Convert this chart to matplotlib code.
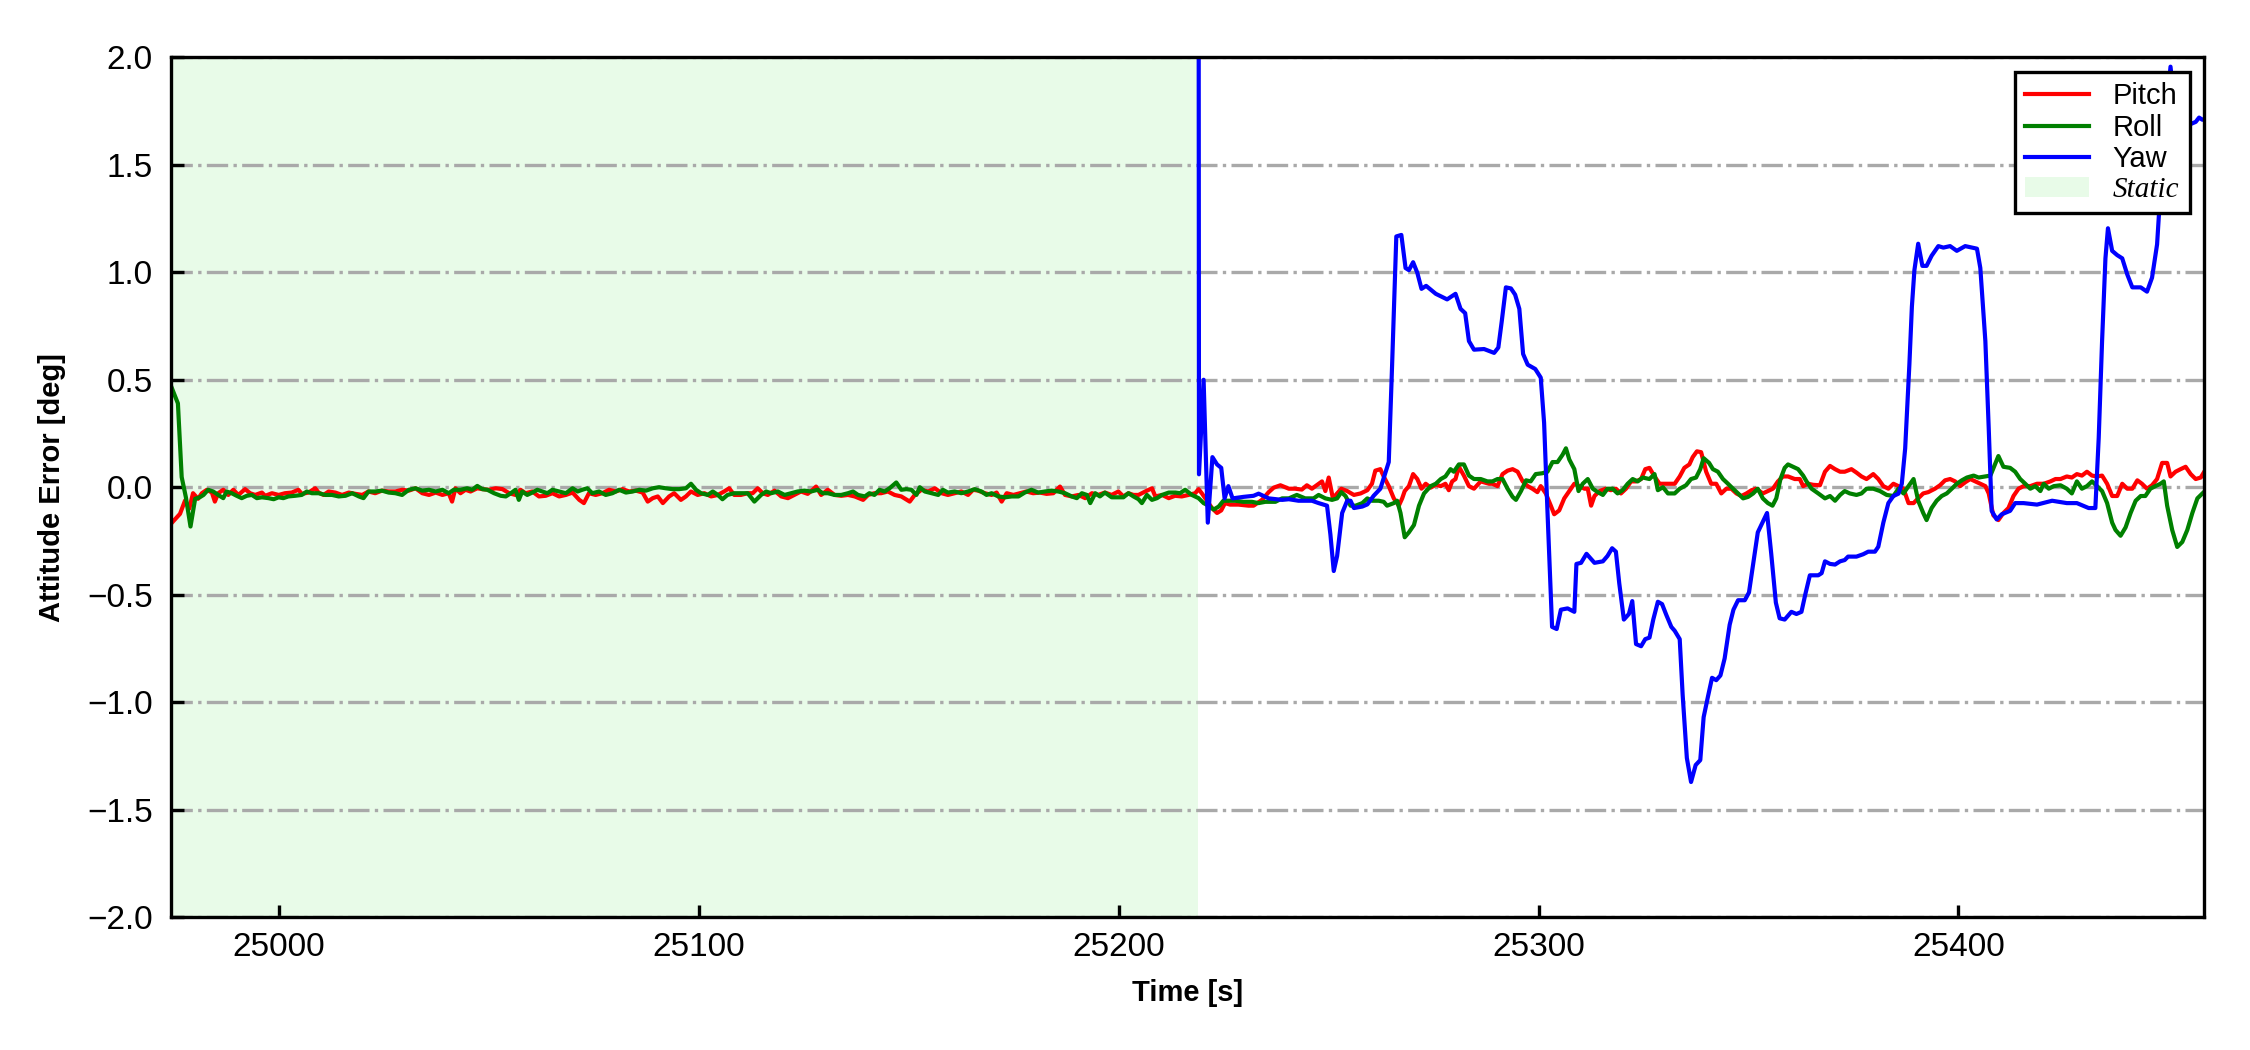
import numpy as np
import matplotlib
matplotlib.use("Agg")
import matplotlib.pyplot as plt
from matplotlib.patches import Patch
from matplotlib.lines import Line2D

plt.rcParams['font.family'] = ['Liberation Sans', 'DejaVu Sans']

# attitude error samples (time [s], error [deg])
pitch_pts = [
    (24974.2, -0.171), (24976.4, -0.124), (24977.6, -0.062), (24978.6, -0.100), (24979.5, -0.028),
    (24980.7, -0.054), (24981.6, -0.028), (24982.8, -0.012), (24984.0, -0.025), (24984.7, -0.067),
    (24985.5, -0.028), (24986.7, -0.012), (24987.9, -0.036), (24989.1, -0.012), (24990.3, -0.036),
    (24991.9, -0.009), (24993.1, -0.028), (24994.3, -0.036), (24995.9, -0.025), (24996.7, -0.040),
    (24998.3, -0.028), (24999.9, -0.036), (25001.4, -0.028), (25003.0, -0.025), (25004.6, -0.012),
    (25005.4, -0.031), (25007.0, -0.025), (25008.6, -0.005), (25009.4, -0.025), (25010.6, -0.036),
    (25011.8, -0.020), (25013.4, -0.025), (25015.0, -0.036), (25016.6, -0.025), (25018.2, -0.031),
    (25019.8, -0.036), (25021.3, -0.020), (25022.9, -0.028), (25024.5, -0.016), (25026.1, -0.020),
    (25027.7, -0.020), (25029.3, -0.012), (25030.9, -0.016), (25032.5, -0.005), (25034.1, -0.028),
    (25035.7, -0.036), (25037.3, -0.025), (25038.9, -0.036), (25040.4, -0.028), (25041.2, -0.067),
    (25042.0, -0.005), (25043.2, -0.028), (25044.4, -0.012), (25045.6, -0.020), (25047.2, -0.005),
    (25048.4, -0.009), (25050.0, -0.012), (25051.6, -0.005), (25053.2, -0.009), (25054.8, -0.028),
    (25056.3, -0.036), (25057.5, -0.012), (25058.7, -0.028), (25060.3, -0.020), (25061.9, -0.043),
    (25063.5, -0.040), (25065.1, -0.028), (25066.7, -0.043), (25068.3, -0.036), (25069.9, -0.025),
    (25071.5, -0.059), (25072.6, -0.074), (25073.8, -0.028), (25075.4, -0.036), (25077.0, -0.028),
    (25078.6, -0.012), (25080.2, -0.020), (25081.8, -0.009), (25083.4, -0.020), (25085.0, -0.016),
    (25086.6, -0.025), (25087.8, -0.067), (25089.0, -0.051), (25090.2, -0.043), (25091.4, -0.074),
    (25092.9, -0.043), (25094.1, -0.028), (25095.7, -0.059), (25096.9, -0.043), (25098.1, -0.020),
    (25099.7, -0.036), (25101.3, -0.028), (25102.9, -0.043), (25104.5, -0.036), (25106.0, -0.020),
    (25107.2, -0.005), (25108.4, -0.036), (25110.0, -0.036), (25111.6, -0.028), (25112.8, -0.028),
    (25114.0, -0.005), (25115.2, -0.028), (25116.4, -0.036), (25118.0, -0.016), (25119.6, -0.043),
    (25121.2, -0.051), (25122.7, -0.036), (25124.3, -0.020), (25125.9, -0.031), (25127.1, -0.012),
    (25127.9, 0.003), (25129.1, -0.036), (25130.7, -0.012), (25132.3, -0.036), (25133.9, -0.040),
    (25135.5, -0.036), (25137.1, -0.043), (25139.1, -0.059), (25140.3, -0.036), (25141.8, -0.028),
    (25143.4, -0.028), (25145.0, -0.020), (25146.6, -0.036), (25148.2, -0.043), (25150.2, -0.067),
    (25151.4, -0.036), (25153.0, -0.012), (25154.6, -0.020), (25156.2, -0.005), (25157.8, -0.028),
    (25159.3, -0.036), (25160.9, -0.028), (25162.5, -0.020), (25164.1, -0.036), (25165.3, -0.012),
    (25166.5, -0.016), (25168.1, -0.028), (25169.7, -0.036), (25170.9, -0.025), (25172.1, -0.067),
    (25173.3, -0.028), (25174.9, -0.036), (25176.4, -0.028), (25178.0, -0.020), (25179.6, -0.028),
    (25181.2, -0.025), (25182.8, -0.031), (25184.4, -0.028), (25186.0, 0.003), (25187.2, -0.036),
    (25188.8, -0.043), (25190.4, -0.036), (25192.0, -0.051), (25193.6, -0.028), (25195.1, -0.036),
    (25196.7, -0.025), (25198.3, -0.036), (25199.9, -0.020), (25201.1, -0.043), (25202.3, -0.028),
    (25203.5, -0.036), (25204.7, -0.036), (25206.3, -0.020), (25207.9, -0.005), (25208.7, -0.043),
    (25210.3, -0.036), (25211.9, -0.051), (25213.4, -0.040), (25215.0, -0.043), (25216.6, -0.036),
    (25218.2, -0.028), (25219.0, -0.009), (25219.8, -0.029), (25220.6, -0.052), (25222.2, -0.097),
    (25223.4, -0.120), (25224.4, -0.108), (25225.3, -0.074), (25226.5, -0.081), (25228.5, -0.081),
    (25230.9, -0.086), (25232.1, -0.086), (25234.1, -0.059), (25235.7, -0.023), (25236.9, -0.002),
    (25238.5, 0.009), (25240.5, -0.007), (25242.0, -0.007), (25243.6, -0.011), (25244.8, 0.009),
    (25246.0, -0.007), (25247.6, 0.016), (25248.4, 0.027), (25249.2, -0.018), (25250.0, 0.045),
    (25251.0, -0.052), (25252.0, -0.029), (25253.0, -0.007), (25254.4, -0.018), (25256.0, -0.036),
    (25257.6, -0.029), (25259.2, -0.014), (25260.3, 0.016), (25261.1, 0.077), (25262.3, 0.084),
    (25263.1, 0.050), (25264.3, 0.005), (25265.5, -0.052), (25266.7, -0.086), (25267.5, -0.052),
    (25268.1, -0.018), (25269.1, 0.005), (25270.1, 0.061), (25271.1, 0.038), (25272.1, -0.007),
    (25273.1, 0.016), (25274.3, -0.002), (25275.5, 0.011), (25276.7, 0.005), (25277.8, 0.016),
    (25278.6, -0.014), (25279.4, 0.027), (25280.2, 0.038), (25281.0, 0.095), (25282.2, 0.054),
    (25283.4, 0.005), (25284.6, -0.007), (25286.2, 0.027), (25288.2, 0.016), (25289.0, 0.016),
    (25290.2, 0.005), (25291.4, 0.061), (25292.6, 0.077), (25293.8, 0.084), (25295.0, 0.072),
    (25296.2, 0.027), (25297.4, 0.005), (25298.5, -0.007), (25299.7, -0.023), (25300.5, 0.005),
    (25301.7, -0.029), (25302.9, -0.086), (25303.7, -0.126), (25304.9, -0.108), (25306.1, -0.052),
    (25307.3, -0.018), (25308.5, 0.016), (25309.7, 0.005), (25310.9, -0.007), (25311.7, -0.007),
    (25312.5, -0.086), (25313.3, -0.041), (25314.5, -0.018), (25316.0, -0.007), (25317.2, -0.014),
    (25318.4, -0.007), (25319.6, -0.029), (25320.8, -0.007), (25322.0, 0.027), (25323.2, 0.027),
    (25324.4, 0.038), (25325.4, 0.084), (25326.4, 0.090), (25327.6, 0.050), (25328.8, 0.016),
    (25330.0, 0.016), (25331.2, 0.016), (25332.4, 0.016), (25333.6, 0.050), (25334.7, 0.090),
    (25335.9, 0.106), (25336.7, 0.140), (25337.7, 0.167), (25338.7, 0.163), (25339.9, 0.072),
    (25341.1, 0.016), (25342.3, 0.016), (25343.5, -0.029), (25344.7, -0.007), (25345.9, -0.007),
    (25347.1, -0.029), (25348.3, -0.041), (25349.5, -0.029), (25350.7, -0.014), (25351.8, -0.007),
    (25353.4, -0.029), (25354.6, -0.018), (25355.8, -0.007), (25357.0, 0.027), (25358.2, 0.050),
    (25359.4, 0.050), (25361.0, 0.038), (25362.2, 0.038), (25363.0, 0.005), (25364.2, 0.016),
    (25365.4, 0.011), (25367.0, 0.009), (25368.2, 0.072), (25369.4, 0.099), (25370.6, 0.084),
    (25371.8, 0.072), (25372.9, 0.072), (25374.5, 0.084), (25375.7, 0.068), (25376.9, 0.050),
    (25378.1, 0.038), (25379.7, 0.061), (25380.9, 0.038), (25382.1, 0.005), (25383.3, -0.007),
    (25384.5, 0.016), (25385.7, 0.005), (25386.9, -0.007), (25388.1, -0.074), (25389.3, -0.074),
    (25390.4, -0.052), (25391.6, -0.029), (25392.8, -0.023), (25394.4, -0.007), (25395.6, 0.009),
    (25396.8, 0.032), (25398.0, 0.038), (25399.2, 0.027), (25400.4, 0.005), (25401.6, 0.023),
    (25402.8, 0.038), (25404.0, 0.027), (25405.2, 0.016), (25406.4, 0.005), (25407.2, -0.029),
    (25408.3, -0.131), (25409.5, -0.153), (25410.7, -0.120), (25411.9, -0.097), (25413.1, -0.041),
    (25414.3, -0.007), (25415.5, 0.005), (25417.1, 0.005), (25418.7, 0.016), (25420.3, 0.016),
    (25421.9, 0.027), (25423.1, 0.038), (25424.3, 0.038), (25425.8, 0.050), (25427.0, 0.045),
    (25428.2, 0.061), (25429.4, 0.054), (25430.6, 0.072), (25431.8, 0.054), (25433.0, 0.050),
    (25434.2, 0.054), (25435.4, 0.016), (25436.6, -0.041), (25437.8, -0.041), (25439.0, 0.016),
    (25440.2, -0.007), (25441.4, -0.007), (25442.6, 0.032), (25443.7, 0.016), (25444.9, -0.007),
    (25446.1, 0.009), (25447.3, 0.038), (25448.5, 0.113), (25449.7, 0.113), (25450.5, 0.050),
    (25451.7, 0.072), (25452.9, 0.084), (25454.1, 0.095), (25455.3, 0.061), (25456.5, 0.038),
    (25457.7, 0.045), (25458.9, 0.084), (25459.4, 0.106),
]

roll_pts = [
    (24974.2, 0.474), (24975.9, 0.390), (24976.8, 0.047), (24977.8, -0.047), (24978.9, -0.183),
    (24980.0, -0.054), (24981.1, -0.047), (24982.0, -0.036), (24983.1, -0.012), (24984.3, -0.020),
    (24985.5, -0.036), (24986.7, -0.051), (24987.5, -0.020), (24988.7, -0.028), (24989.9, -0.040),
    (24991.1, -0.051), (24992.3, -0.040), (24993.5, -0.036), (24994.7, -0.051), (24995.9, -0.047),
    (24997.5, -0.051), (24998.7, -0.056), (24999.9, -0.047), (25001.0, -0.051), (25002.2, -0.043),
    (25003.8, -0.040), (25005.4, -0.036), (25006.6, -0.020), (25007.8, -0.028), (25009.4, -0.028),
    (25011.0, -0.036), (25012.6, -0.036), (25014.2, -0.043), (25015.8, -0.040), (25017.4, -0.028),
    (25019.0, -0.043), (25020.1, -0.051), (25021.3, -0.020), (25022.9, -0.020), (25024.5, -0.016),
    (25026.1, -0.025), (25027.7, -0.028), (25029.3, -0.036), (25030.9, -0.012), (25032.5, -0.005),
    (25034.1, -0.016), (25035.7, -0.012), (25037.3, -0.020), (25038.9, -0.012), (25040.4, -0.028),
    (25041.6, -0.012), (25043.2, -0.012), (25044.8, -0.005), (25046.0, -0.012), (25047.2, 0.006),
    (25048.4, -0.009), (25049.6, -0.012), (25051.2, -0.028), (25052.8, -0.040), (25054.0, -0.043),
    (25055.2, -0.028), (25056.3, -0.012), (25057.1, -0.059), (25057.9, -0.020), (25059.1, -0.036),
    (25060.3, -0.025), (25061.5, -0.012), (25062.7, -0.020), (25063.9, -0.028), (25065.1, -0.012),
    (25066.7, -0.020), (25068.3, -0.028), (25069.9, -0.005), (25071.1, -0.020), (25072.2, -0.012),
    (25073.4, -0.005), (25074.6, -0.028), (25076.2, -0.020), (25077.8, -0.036), (25079.4, -0.028),
    (25081.0, -0.012), (25082.6, -0.025), (25084.2, -0.020), (25085.8, -0.012), (25087.4, -0.016),
    (25089.0, -0.005), (25090.5, 0.000), (25092.1, -0.005), (25093.7, -0.009), (25095.3, -0.009),
    (25096.9, -0.005), (25098.1, 0.016), (25099.3, -0.012), (25100.5, -0.028), (25102.1, -0.036),
    (25103.3, -0.020), (25104.5, -0.036), (25105.6, -0.056), (25106.8, -0.036), (25108.4, -0.028),
    (25110.0, -0.028), (25111.6, -0.028), (25113.2, -0.067), (25114.8, -0.036), (25116.0, -0.020),
    (25117.2, -0.028), (25118.8, -0.020), (25120.4, -0.036), (25122.0, -0.028), (25123.5, -0.020),
    (25125.1, -0.016), (25126.7, -0.020), (25128.3, -0.012), (25129.5, -0.028), (25130.7, -0.028),
    (25132.3, -0.036), (25133.9, -0.036), (25135.5, -0.028), (25136.7, -0.020), (25137.9, -0.036),
    (25139.5, -0.043), (25140.6, -0.028), (25141.8, -0.036), (25143.0, -0.012), (25144.2, -0.020),
    (25145.4, -0.005), (25147.0, 0.022), (25148.2, -0.012), (25149.4, -0.009), (25150.6, -0.012),
    (25151.8, -0.036), (25152.6, 0.000), (25153.8, -0.020), (25155.4, -0.028), (25157.0, -0.036),
    (25158.1, -0.012), (25159.3, -0.025), (25160.9, -0.020), (25162.5, -0.028), (25164.1, -0.020),
    (25165.7, -0.009), (25167.3, -0.020), (25168.5, -0.036), (25169.7, -0.028), (25171.3, -0.043),
    (25172.9, -0.047), (25174.5, -0.043), (25176.1, -0.043), (25177.6, -0.025), (25179.2, -0.012),
    (25180.8, -0.025), (25182.4, -0.020), (25184.0, -0.016), (25185.6, -0.020), (25187.2, -0.028),
    (25188.8, -0.043), (25190.0, -0.051), (25191.2, -0.028), (25192.4, -0.036), (25193.2, -0.074),
    (25194.4, -0.028), (25195.5, -0.043), (25196.7, -0.025), (25198.3, -0.047), (25199.9, -0.047),
    (25201.1, -0.047), (25202.3, -0.028), (25203.5, -0.043), (25204.7, -0.056), (25205.5, -0.074),
    (25206.7, -0.036), (25207.9, -0.059), (25209.1, -0.051), (25210.3, -0.036), (25211.9, -0.025),
    (25213.5, -0.025), (25214.6, -0.028), (25215.8, -0.012), (25217.4, -0.036), (25219.0, -0.051),
    (25220.2, -0.074), (25221.4, -0.086), (25222.6, -0.104), (25223.8, -0.090), (25224.9, -0.063),
    (25226.1, -0.063), (25227.7, -0.063), (25229.7, -0.068), (25231.7, -0.068), (25233.3, -0.074),
    (25234.9, -0.068), (25237.3, -0.068), (25238.9, -0.052), (25240.5, -0.052), (25242.4, -0.036),
    (25244.4, -0.052), (25246.4, -0.052), (25247.6, -0.036), (25249.2, -0.052), (25250.8, -0.059),
    (25252.0, -0.052), (25253.0, -0.023), (25254.0, -0.041), (25255.2, -0.086), (25256.4, -0.086),
    (25258.0, -0.074), (25259.2, -0.052), (25260.3, -0.063), (25261.9, -0.063), (25263.1, -0.068),
    (25263.9, -0.086), (25265.5, -0.074), (25266.3, -0.063), (25267.1, -0.120), (25268.1, -0.233),
    (25269.1, -0.210), (25270.3, -0.176), (25271.5, -0.086), (25272.7, -0.029), (25274.3, 0.005),
    (25275.5, 0.016), (25276.7, 0.038), (25277.8, 0.050), (25279.0, 0.084), (25279.8, 0.072),
    (25281.0, 0.106), (25282.2, 0.106), (25283.4, 0.054), (25284.6, 0.038), (25286.2, 0.038),
    (25287.8, 0.027), (25289.0, 0.027), (25290.2, 0.038), (25291.4, 0.038), (25292.6, -0.007),
    (25293.8, -0.045), (25294.6, -0.059), (25295.8, -0.018), (25297.0, 0.032), (25298.1, 0.027),
    (25299.3, 0.061), (25300.9, 0.065), (25302.1, 0.072), (25303.3, 0.117), (25304.5, 0.117),
    (25305.7, 0.151), (25306.5, 0.181), (25307.3, 0.129), (25308.5, 0.084), (25309.5, -0.018),
    (25310.5, 0.016), (25311.7, 0.038), (25312.9, -0.007), (25314.1, -0.023), (25315.3, -0.036),
    (25316.4, -0.007), (25317.6, -0.007), (25318.8, -0.029), (25320.0, -0.014), (25321.2, 0.016),
    (25322.4, 0.038), (25323.6, 0.027), (25324.8, 0.045), (25326.4, 0.038), (25327.6, 0.061),
    (25328.4, -0.014), (25329.6, 0.000), (25330.8, -0.029), (25332.4, -0.029), (25333.6, -0.007),
    (25335.1, 0.009), (25336.3, 0.038), (25337.5, 0.045), (25338.5, 0.084), (25339.3, 0.135),
    (25340.6, 0.113), (25341.5, 0.084), (25342.7, 0.072), (25343.9, 0.038), (25345.1, 0.016),
    (25346.3, -0.007), (25347.5, -0.029), (25348.7, -0.052), (25349.9, -0.045), (25351.1, -0.029),
    (25352.2, -0.007), (25353.4, -0.052), (25354.6, -0.074), (25355.7, -0.086), (25356.6, -0.052),
    (25357.6, 0.038), (25358.6, 0.090), (25359.4, 0.106), (25360.6, 0.095), (25361.8, 0.084),
    (25363.0, 0.054), (25363.8, 0.027), (25365.0, -0.007), (25366.6, -0.029), (25368.2, -0.052),
    (25369.4, -0.041), (25370.6, -0.063), (25371.8, -0.036), (25372.9, -0.018), (25374.1, -0.029),
    (25375.7, -0.036), (25376.9, -0.029), (25378.1, -0.007), (25379.7, -0.007), (25381.3, -0.018),
    (25382.9, -0.036), (25384.5, -0.041), (25385.7, -0.007), (25386.9, -0.029), (25388.1, 0.005),
    (25389.3, 0.038), (25390.4, -0.063), (25391.6, -0.120), (25392.4, -0.153), (25393.6, -0.097),
    (25394.8, -0.063), (25396.0, -0.041), (25397.2, -0.029), (25398.4, -0.007), (25399.6, 0.016),
    (25400.8, 0.032), (25402.0, 0.045), (25403.6, 0.054), (25404.8, 0.045), (25406.4, 0.050),
    (25407.6, 0.054), (25408.7, 0.106), (25409.5, 0.145), (25410.7, 0.095), (25412.3, 0.090),
    (25413.5, 0.072), (25414.7, 0.038), (25415.9, 0.016), (25417.1, -0.007), (25418.3, 0.005),
    (25419.5, -0.018), (25420.3, 0.016), (25421.5, -0.007), (25422.7, 0.005), (25424.3, 0.009),
    (25425.8, -0.007), (25427.0, -0.029), (25428.2, 0.027), (25429.4, -0.007), (25430.6, 0.005),
    (25431.8, 0.027), (25433.0, 0.005), (25434.2, -0.018), (25435.4, -0.074), (25436.6, -0.165),
    (25437.4, -0.199), (25438.6, -0.226), (25439.8, -0.187), (25441.0, -0.120), (25442.2, -0.063),
    (25443.4, -0.041), (25444.5, -0.041), (25445.7, -0.007), (25446.9, 0.005), (25448.1, 0.016),
    (25448.9, 0.027), (25449.7, -0.086), (25450.9, -0.199), (25452.1, -0.278), (25453.3, -0.255),
    (25454.5, -0.199), (25455.7, -0.120), (25456.9, -0.052), (25458.1, -0.029), (25459.3, -0.007),
]

yaw_pts = [
    (25218.9, 6.000), (25219.1, 0.060), (25220.2, 0.500), (25221.2, -0.165), (25222.3, 0.140),
    (25223.4, 0.106), (25224.4, 0.090), (25225.2, -0.052), (25226.1, 0.005), (25227.1, -0.052),
    (25229.7, -0.045), (25232.1, -0.040), (25233.3, -0.030), (25235.7, -0.052), (25238.9, -0.059),
    (25240.5, -0.056), (25242.8, -0.063), (25246.0, -0.063), (25247.6, -0.074), (25249.6, -0.086),
    (25250.4, -0.220), (25251.2, -0.390), (25252.0, -0.320), (25253.2, -0.120), (25254.4, -0.063),
    (25255.2, -0.063), (25256.0, -0.097), (25258.0, -0.090), (25259.2, -0.080), (25260.7, -0.040),
    (25262.3, -0.007), (25264.3, 0.117), (25265.1, 0.570), (25266.1, 1.167), (25267.3, 1.174),
    (25268.3, 1.020), (25269.1, 1.010), (25270.1, 1.047), (25271.1, 0.998), (25272.1, 0.923),
    (25273.2, 0.937), (25275.5, 0.900), (25278.2, 0.874), (25280.2, 0.900), (25281.4, 0.830),
    (25282.5, 0.810), (25283.4, 0.680), (25284.6, 0.640), (25287.0, 0.643), (25289.4, 0.625),
    (25290.4, 0.650), (25291.2, 0.770), (25292.2, 0.930), (25293.4, 0.925), (25294.4, 0.896),
    (25295.4, 0.830), (25296.3, 0.620), (25297.4, 0.570), (25299.2, 0.550), (25300.5, 0.510),
    (25301.3, 0.300), (25302.1, -0.110), (25303.2, -0.650), (25304.3, -0.660), (25305.3, -0.570),
    (25306.9, -0.564), (25308.5, -0.580), (25309.0, -0.357), (25310.1, -0.352), (25311.4, -0.310),
    (25313.3, -0.352), (25315.3, -0.345), (25316.4, -0.320), (25317.5, -0.284), (25318.4, -0.300),
    (25319.2, -0.447), (25320.3, -0.616), (25321.5, -0.590), (25322.3, -0.530), (25323.2, -0.730),
    (25324.4, -0.740), (25325.4, -0.707), (25326.4, -0.700), (25327.3, -0.616), (25328.4, -0.533),
    (25329.4, -0.544), (25330.4, -0.594), (25331.6, -0.650), (25332.4, -0.668), (25333.6, -0.707),
    (25334.3, -0.966), (25335.3, -1.260), (25336.3, -1.372), (25337.4, -1.293), (25338.5, -1.270),
    (25339.3, -1.070), (25340.3, -0.977), (25341.3, -0.887), (25342.3, -0.898), (25343.3, -0.876),
    (25344.3, -0.797), (25345.5, -0.640), (25346.4, -0.570), (25347.5, -0.526), (25349.1, -0.526),
    (25350.1, -0.490), (25351.1, -0.357), (25352.2, -0.210), (25353.3, -0.165), (25354.4, -0.120),
    (25355.4, -0.310), (25356.5, -0.537), (25357.4, -0.610), (25358.6, -0.616), (25360.2, -0.580),
    (25361.4, -0.590), (25362.6, -0.580), (25363.5, -0.500), (25364.6, -0.410), (25366.6, -0.410),
    (25367.4, -0.400), (25368.2, -0.345), (25369.4, -0.357), (25370.6, -0.360), (25371.8, -0.345),
    (25372.9, -0.339), (25373.7, -0.323), (25375.7, -0.323), (25377.3, -0.312), (25378.5, -0.300),
    (25380.1, -0.300), (25380.9, -0.277), (25382.1, -0.165), (25383.3, -0.074), (25384.5, -0.041),
    (25385.7, -0.030), (25386.5, 0.016), (25387.3, 0.180), (25388.3, 0.570), (25388.9, 0.840),
    (25389.5, 1.010), (25390.4, 1.133), (25391.4, 1.030), (25392.4, 1.030), (25393.6, 1.077),
    (25395.2, 1.122), (25396.4, 1.115), (25398.0, 1.122), (25399.6, 1.100), (25401.6, 1.122),
    (25403.2, 1.115), (25404.4, 1.110), (25405.2, 1.020), (25406.4, 0.680), (25407.2, 0.275),
    (25407.9, -0.110), (25409.1, -0.150), (25410.3, -0.126), (25412.3, -0.110), (25413.5, -0.074),
    (25415.5, -0.074), (25418.7, -0.081), (25422.3, -0.063), (25425.8, -0.074), (25428.2, -0.074),
    (25431.0, -0.097), (25432.6, -0.097), (25433.4, 0.230), (25434.2, 0.680), (25435.0, 1.065),
    (25435.6, 1.205), (25436.6, 1.100), (25437.8, 1.080), (25439.0, 1.065), (25440.2, 0.990),
    (25441.4, 0.930), (25443.4, 0.930), (25444.9, 0.910), (25446.1, 0.975), (25447.3, 1.130),
    (25448.1, 1.380), (25448.9, 1.630), (25449.7, 1.790), (25450.5, 1.957), (25451.3, 1.810),
    (25452.5, 1.710), (25453.7, 1.670), (25455.3, 1.690), (25456.5, 1.700), (25457.3, 1.720),
    (25458.1, 1.710), (25459.3, 1.720),
]

static_start = 24974.2
static_end = 25218.8
x_range = (24974.2, 25458.5)
x_ticks = [25000, 25100, 25200, 25300, 25400]
y_ticks = [-2.0, -1.5, -1.0, -0.5, 0.0, 0.5, 1.0, 1.5, 2.0]

pitch = np.array(pitch_pts)
roll = np.array(roll_pts)
yaw = np.array(yaw_pts)

fig = plt.figure(figsize=(7.5, 3.5), dpi=300)
ax = fig.add_axes([0.0759, 0.1267, 0.9037, 0.8186])

ax.axvspan(static_start, static_end, color='lightgreen', alpha=0.2, lw=0)
ax.plot(pitch[:, 0], pitch[:, 1], color='red', lw=1.0)
ax.plot(roll[:, 0], roll[:, 1], color='green', lw=1.0)
ax.plot(yaw[:, 0], yaw[:, 1], color='blue', lw=1.0)

ax.set_xlim(*x_range)
ax.set_ylim(-2, 2)
ax.set_xticks(x_ticks)
ax.set_yticks(y_ticks)
ax.yaxis.grid(True, linestyle='-.', color='darkgray', lw=0.8)
ax.tick_params(direction='in', length=3, width=0.8, labelsize=8)
ax.tick_params(axis='y', pad=4.3)
for s in ax.spines.values():
    s.set_linewidth(0.8)

ax.set_xlabel('Time [s]', fontsize=7, fontweight='bold')
ax.set_ylabel('Attitude Error [deg]', fontsize=7, fontweight='bold', labelpad=5)

handles = [Line2D([], [], color='red', lw=1.0),
           Line2D([], [], color='green', lw=1.0),
           Line2D([], [], color='blue', lw=1.0),
           Patch(facecolor='lightgreen', alpha=0.2, lw=0)]
leg = ax.legend(handles, ['Pitch', 'Roll', 'Yaw', 'Static'], loc='upper right',
                fontsize=7, fancybox=False, framealpha=1, edgecolor='black',
                labelspacing=0.12, handlelength=2.2, handletextpad=0.8,
                borderpad=0.35)
leg.get_frame().set_linewidth(0.8)
st = leg.get_texts()[3]
st.set_fontfamily(['Liberation Serif', 'DejaVu Serif'])
st.set_fontstyle('italic')

fig.savefig('out.png', dpi=300)
